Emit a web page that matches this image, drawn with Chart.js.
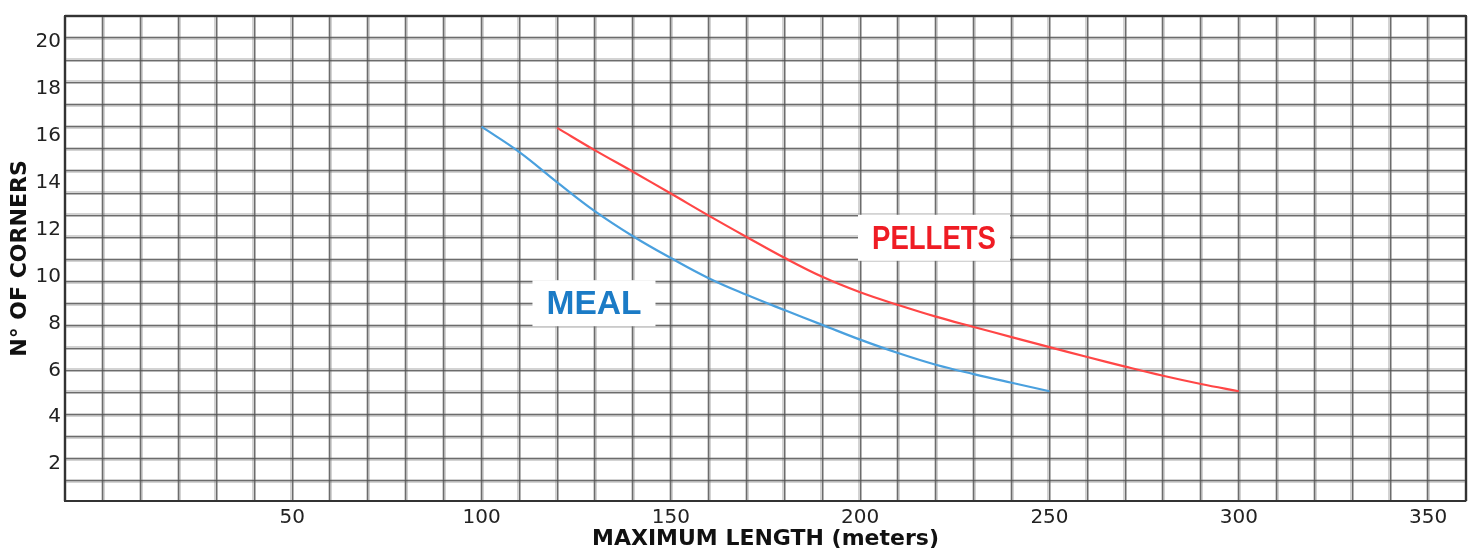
<!DOCTYPE html>
<html>
<head>
<meta charset="utf-8">
<title>N° of corners / maximum length</title>
<script src="https://cdn.jsdelivr.net/npm/chart.js@4.4.1/dist/chart.umd.min.js"></script>
<style>
  html, body { margin: 0; padding: 0; background: #fff; }
  #wrap { width: 1472px; height: 552px; position: relative; }
</style>
</head>
<body>
<div id="wrap"><canvas id="cornersChart"></canvas></div>
<script>
// conveying length (m) against number of corners, per material
const mealLength    = [100, 110, 120, 130, 140, 150, 160, 170, 180, 190, 200, 210, 220, 230, 240, 250];
const mealCorners   = [16.39, 15.31, 14.02, 12.78, 11.72, 10.79, 9.93, 9.22, 8.57, 7.94, 7.31, 6.74, 6.24, 5.84, 5.47, 5.11];
const pelletLength  = [120, 130, 140, 150, 160, 170, 180, 190, 200, 210, 220, 230, 240, 250, 260, 270, 280, 290, 300];
const pelletCorners = [16.34, 15.38, 14.47, 13.54, 12.60, 11.69, 10.80, 9.99, 9.33, 8.79, 8.29, 7.85, 7.42, 6.99, 6.57, 6.16, 5.77, 5.42, 5.11];

const xTickLabels = [50, 100, 150, 200, 250, 300, 350];
const yTickLabels = [2, 4, 6, 8, 10, 12, 14, 16, 18, 20];

const gridCore = 'rgba(70, 70, 70, 0.8)';
const gridHalo = 'rgba(110, 110, 110, 0.30)';

// series names written on the plot, on a white patch
const curveNotes = [
    { text: 'PELLETS', x: 219.5, y: 11.61, color: '#ef1c24', width: 124 },
    { text: 'MEAL',    x: 129.7, y: 8.82,  color: '#1b7bc6', width: 95 }
];

const notesPlugin = {
    id: 'curveNotes',
    beforeDatasetsDraw(chart) {
        const { ctx, scales } = chart;
        ctx.save();
        ctx.font = 'bold 33px "Liberation Sans", Arial, sans-serif';
        ctx.textAlign = 'center';
        ctx.textBaseline = 'middle';
        curveNotes.forEach(n => {
            const px = scales.x.getPixelForValue(n.x);
            const py = scales.y.getPixelForValue(n.y);
            ctx.fillStyle = '#fff';
            ctx.fillRect(px - n.width / 2 - 14, py - 24, n.width + 28, 46);
            const w = ctx.measureText(n.text).width;
            ctx.save();
            ctx.translate(px, py + 1);
            ctx.scale(n.width / w, 1);
            ctx.fillStyle = n.color;
            ctx.fillText(n.text, 0, 0);
            ctx.restore();
        });
        ctx.restore();
    }
};

// closes the plot box on the top and right sides
const framePlugin = {
    id: 'frame',
    afterDatasetsDraw(chart) {
        const { ctx, chartArea: a } = chart;
        ctx.save();
        ctx.strokeStyle = '#333';
        ctx.lineWidth = 2;
        ctx.beginPath();
        ctx.moveTo(a.left, a.top);
        ctx.lineTo(a.right, a.top);
        ctx.lineTo(a.right, a.bottom);
        ctx.stroke();
        ctx.restore();
    }
};

const tickFont = { family: '"DejaVu Sans", sans-serif', size: 20 };
const titleFont = { family: '"DejaVu Sans", sans-serif', size: 22, weight: 'bold' };

new Chart(document.getElementById('cornersChart'), {
    type: 'line',
    data: {
        datasets: [{
            label: 'MEAL',
            data: mealLength.map((x, i) => ({ x: x, y: mealCorners[i] })),
            borderColor: '#4aa0de',
            borderWidth: 2.2,
            pointRadius: 0,
            tension: 0.4,
            xAxisID: 'x',
            yAxisID: 'y'
        }, {
            label: 'PELLETS',
            data: pelletLength.map((x, i) => ({ x: x, y: pelletCorners[i] })),
            borderColor: '#ff4646',
            borderWidth: 2.2,
            pointRadius: 0,
            tension: 0.4,
            xAxisID: 'x',
            yAxisID: 'y'
        }]
    },
    options: {
        responsive: true,
        maintainAspectRatio: false,
        animation: false,
        layout: { padding: { top: 11, right: 6, left: 0, bottom: 0 } },
        plugins: { legend: { display: false }, tooltip: { enabled: false } },
        scales: {
            x: {
                type: 'linear', position: 'bottom', min: -10, max: 360,
                ticks: {
                    stepSize: 10, autoSkip: false, maxRotation: 0, padding: 5,
                    color: '#222', font: tickFont,
                    callback: v => xTickLabels.includes(v) ? String(v) : ''
                },
                grid: { color: gridCore, lineWidth: 1.3, drawTicks: false },
                border: { color: '#333', width: 2 },
                title: { display: true, text: 'MAXIMUM LENGTH (meters)', color: '#111', font: titleFont, padding: { top: 0, bottom: 0 } },
                afterFit: s => { s.height = 51; }
            },
            xHalo: {
                type: 'linear', position: 'bottom', min: -10, max: 360,
                ticks: { display: false, stepSize: 10, autoSkip: false },
                grid: { color: gridHalo, lineWidth: 4, drawTicks: false },
                border: { display: false },
                afterFit: s => { s.height = 0; }
            },
            y: {
                type: 'linear', position: 'left', min: 0.43, max: 21.11,
                ticks: {
                    stepSize: 2, includeBounds: false, padding: 4,
                    color: '#222', font: tickFont,
                    callback: v => yTickLabels.includes(v) ? String(v) : ''
                },
                grid: { display: false, drawTicks: false },
                border: { color: '#333', width: 2 },
                title: { display: true, text: 'N° OF CORNERS', color: '#111', font: titleFont, padding: { top: 7, bottom: 0 } },
                afterFit: s => { s.width = 65; }
            },
            yGrid: {
                type: 'linear', position: 'left', min: -0.9, max: 21,
                ticks: { display: false, stepSize: 1, includeBounds: false },
                grid: { color: gridCore, lineWidth: 1.3, drawTicks: false },
                border: { display: false },
                afterFit: s => { s.width = 0; }
            },
            yHalo: {
                type: 'linear', position: 'left', min: -0.9, max: 21,
                ticks: { display: false, stepSize: 1, includeBounds: false },
                grid: { color: gridHalo, lineWidth: 4, drawTicks: false },
                border: { display: false },
                afterFit: s => { s.width = 0; }
            }
        }
    },
    plugins: [notesPlugin, framePlugin]
});
</script>
</body>
</html>
